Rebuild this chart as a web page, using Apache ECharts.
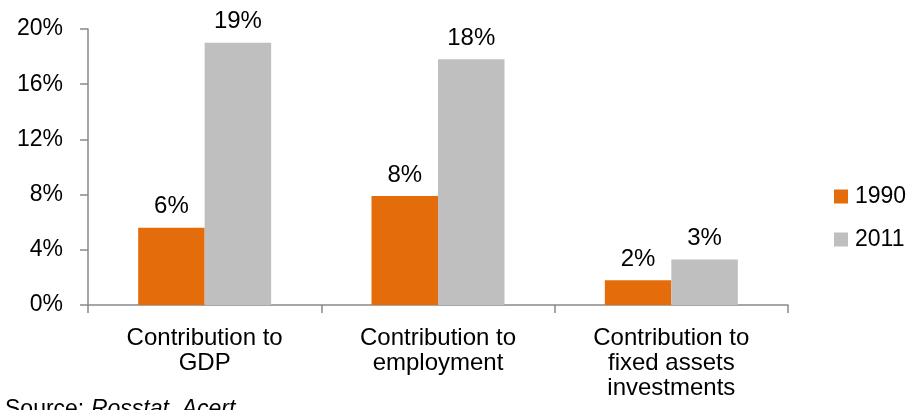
<!DOCTYPE html>
<html>
<head>
<meta charset="utf-8">
<script src="https://cdn.jsdelivr.net/npm/echarts@6/dist/echarts.min.js"></script>
<style>
html,body{margin:0;padding:0;background:#fff;}
#c{width:911px;height:410px;}
</style>
</head>
<body>
<div id="c"></div>
<script>
var categories = ['Contribution to\nGDP', 'Contribution to\nemployment', 'Contribution to\nfixed assets\ninvestments'];
var seriesNames = ['1990', '2011'];
var values1990 = [5.6, 7.9, 1.8];
var values2011 = [19.0, 17.8, 3.3];
var colors = ['#E46C0A', '#BFBFBF'];
var sourceText = 'Source:';
var sourceDetail = 'Rosstat, Acert';

var font = 'Liberation Sans, Arial, sans-serif';
var chart = echarts.init(document.getElementById('c'));
function labelCfg() {
  return {
    show: true, position: 'top', distance: 9,
    fontFamily: font, fontSize: 24, color: '#000',
    formatter: function (p) { return Math.round(p.value) + '%'; }
  };
}
chart.setOption({
  animation: false,
  color: colors,
  grid: { left: 88, right: 123, top: 29, bottom: 105, containLabel: false },
  legend: {
    orient: 'vertical', left: 829, top: 180,
    itemWidth: 14, itemHeight: 14, itemGap: 20,
    icon: 'rect',
    textStyle: { fontFamily: font, fontSize: 23, color: '#000', padding: [0, 0, 0, 2] },
    data: seriesNames
  },
  xAxis: {
    type: 'category', data: categories,
    axisLine: { lineStyle: { color: '#898989', width: 1.5 } },
    axisTick: { show: true, length: 8, inside: false, lineStyle: { color: '#898989', width: 1.5 } },
    axisLabel: { fontFamily: font, fontSize: 24, color: '#000', margin: 21, lineHeight: 25, interval: 0 }
  },
  yAxis: {
    type: 'value', min: 0, max: 20, interval: 4,
    axisLine: { show: true, lineStyle: { color: '#898989', width: 1.5 } },
    axisTick: { show: true, length: 8, lineStyle: { color: '#898989', width: 1.5 } },
    splitLine: { show: false },
    axisLabel: { fontFamily: font, fontSize: 23, color: '#000', margin: 25, formatter: '{value}%' }
  },
  series: [
    { name: seriesNames[0], type: 'bar', data: values1990, barGap: '0%', barCategoryGap: '43%', label: labelCfg() },
    { name: seriesNames[1], type: 'bar', data: values2011, barGap: '0%', barCategoryGap: '43%', label: labelCfg() }
  ],
  graphic: [{
    type: 'text', left: 5, top: 398,
    style: {
      text: '{a|' + sourceText + '}  {b|' + sourceDetail + '}',
      rich: {
        a: { fontFamily: font, fontSize: 23, fill: '#000' },
        b: { fontFamily: font, fontSize: 23, fontStyle: 'italic', fill: '#000' }
      }
    }
  }]
});
</script>
</body>
</html>
